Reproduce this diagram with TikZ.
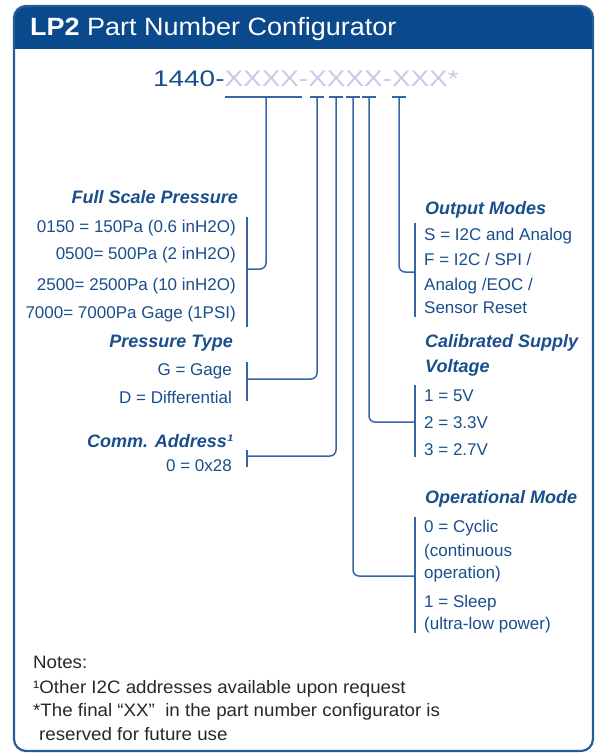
\documentclass[tikz,border=0pt]{standalone}
\usepackage{fontspec}
\setmainfont{Liberation Sans}
\usepackage{graphicx}
\definecolor{hdr}{RGB}{10,73,140}
\definecolor{txt}{RGB}{25,78,140}
\definecolor{lnc}{RGB}{55,102,165}
\definecolor{xcol}{RGB}{196,203,228}
\definecolor{frm}{RGB}{38,92,158}
\definecolor{notec}{RGB}{40,40,40}
\begin{document}
\begin{tikzpicture}[x=1pt,y=-1pt,
  body/.style={font=\fontsize{17}{20}\selectfont, text=txt, inner sep=0pt},
  bodyl/.style={body, anchor=base east},
  bodyr/.style={body, anchor=base west},
  head/.style={font=\fontsize{18}{20}\selectfont\bfseries\itshape, text=txt, inner sep=0pt},
  headl/.style={head, anchor=base east},
  headr/.style={head, anchor=base west},
  note/.style={font=\fontsize{18}{20}\selectfont, text=notec, inner sep=0pt, anchor=base west},
  conn/.style={draw=lnc, line width=1.5pt, rounded corners=6pt},
  brk/.style={draw=lnc, line width=1.5pt},
]
\useasboundingbox (0,0) rectangle (596,755);
% frame
\begin{scope}
  \clip[rounded corners=12pt] (14,6) rectangle (593,751);
  \fill[hdr] (14,6) rectangle (593,49);
\end{scope}
\draw[frm, line width=2.2pt, rounded corners=12pt] (14,6) rectangle (593,751);
% title
\node[anchor=base west, text=white, font=\fontsize{25}{28}\selectfont, inner sep=0pt] (title) at (30,35)
  {\scalebox{1.08}[1]{\textbf{LP2} Part Number Configurator}};
% part number
\node[anchor=base west, inner sep=0pt, font=\fontsize{22.5}{24}\selectfont] (pn) at (153,86)
  {\scalebox{1.24}[1]{\textcolor{txt}{1440-}\textcolor{xcol}{XXXX-XXXX-XXX*}}};
% underline tops
\coordinate (u1l) at (225,97); \coordinate (u1r) at (302,97);
\coordinate (u2l) at (310,97); \coordinate (u2r) at (324,97);
\coordinate (u3l) at (329,97); \coordinate (u3r) at (343,97);
\coordinate (u4l) at (346,97); \coordinate (u4r) at (360,97);
\coordinate (u5l) at (362,97); \coordinate (u5r) at (376,97);
\coordinate (u6l) at (392,97); \coordinate (u6r) at (406,97);
\foreach \i in {1,...,6} { \draw[brk] (u\i l) -- (u\i r); }
% connector tops and ends
\coordinate (t1) at (266,97); \coordinate (e1) at (247,269);
\coordinate (t2) at (317,97); \coordinate (e2) at (247,379);
\coordinate (t3) at (336,97); \coordinate (e3) at (247,456);
\coordinate (t4) at (353,97); \coordinate (e4) at (415,576);
\coordinate (t5) at (369,97); \coordinate (e5) at (415,422);
\coordinate (t6) at (399,97); \coordinate (e6) at (415,272);
\foreach \i in {1,...,6} { \draw[conn] (t\i) |- (e\i); }
% brackets
\coordinate (b1a) at (247,217); \coordinate (b1b) at (247,327);
\coordinate (b2a) at (247,362); \coordinate (b2b) at (247,401);
\coordinate (b3a) at (247,450); \coordinate (b3b) at (247,467);
\coordinate (b4a) at (415,517); \coordinate (b4b) at (415,633);
\coordinate (b5a) at (415,385); \coordinate (b5b) at (415,457);
\coordinate (b6a) at (415,223); \coordinate (b6b) at (415,317);
\foreach \i in {1,...,6} { \draw[brk] (b\i a) -- (b\i b); }
% left column
\node[headl] (fsp) at (238,203) {Full Scale Pressure};
\node[bodyl] (f1) at (236,232) {0150 = 150Pa (0.6 inH2O)};
\node[bodyl] (f2) at (236,259) {0500= 500Pa (2 inH2O)};
\node[bodyl] (f3) at (236,290) {2500= 2500Pa (10 inH2O)};
\node[bodyl] (f4) at (236,318) {7000= 7000Pa Gage (1PSI)};
\node[headl] (pt) at (233,347) {Pressure Type};
\node[bodyl] (p1) at (232,375) {G = Gage};
\node[bodyl] (p2) at (232,403) {D = Differential};
\node[headl] (ca) at (233,447) {Comm. Address¹};
\node[bodyl] (c1) at (232,471) {0 = 0x28};
% right column
\node[headr] (om) at (425,214) {Output Modes};
\node[bodyr] (o1) at (424,240) {S = I2C and Analog};
\node[bodyr] (o2) at (424,265) {F = I2C / SPI /};
\node[bodyr] (o3) at (424,290) {Analog /EOC /};
\node[bodyr] (o4) at (424,313) {Sensor Reset};
\node[headr] (cs) at (425,347) {Calibrated Supply};
\node[headr] (cs2) at (425,372) {Voltage};
\node[bodyr] (v1) at (424,401) {1 = 5V};
\node[bodyr] (v2) at (424,428) {2 = 3.3V};
\node[bodyr] (v3) at (424,455) {3 = 2.7V};
\node[headr] (opm) at (425,503) {Operational Mode};
\node[bodyr] (m1) at (424,532) {0 = Cyclic};
\node[bodyr] (m2) at (424,556) {(continuous};
\node[bodyr] (m3) at (424,578) {operation)};
\node[bodyr] (m4) at (424,607) {1 = Sleep};
\node[bodyr] (m5) at (424,629) {(ultra-low power)};
% notes
\node[note] (n0) at (33,668) {\scalebox{1.04}[1]{Notes:}};
\node[note] (n1) at (33,693) {\scalebox{1.04}[1]{¹Other I2C addresses available upon request}};
\node[note] (n2) at (33,716) {\scalebox{1.04}[1]{*The final “XX”\ \ in the part number configurator is}};
\node[note] (n3) at (39,740) {\scalebox{1.04}[1]{reserved for future use}};
\end{tikzpicture}
\end{document}
